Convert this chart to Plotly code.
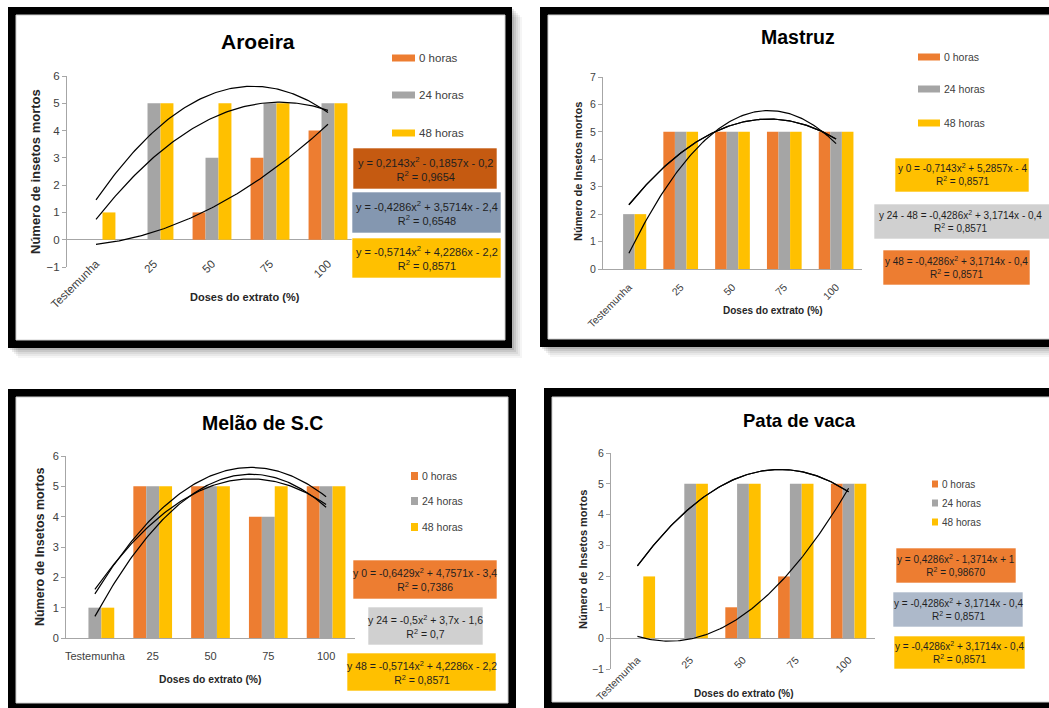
import numpy as np
import plotly.graph_objects as go

W, H = 1049, 708

# ---------------- data ----------------
categories = ["Testemunha", "25", "50", "75", "100"]
series_names = ["0 horas", "24 horas", "48 horas"]
series_colors = ["#ED7D31", "#A5A5A5", "#FFC000"]
titles = ["Aroeira", "Mastruz", "Melão de S.C", "Pata de vaca"]
y_titles = ["Número de insetos mortos", "Número de Insetos mortos",
            "Número de Insetos mortos", "Número de Insetos mortos"]
x_title = "Doses do extrato (%)"

aroeira_0 = [0, 0, 1, 3, 4]
aroeira_24 = [0, 5, 3, 5, 5]
aroeira_48 = [1, 5, 5, 5, 5]
mastruz_0 = [0, 5, 5, 5, 5]
mastruz_24 = [2, 5, 5, 5, 5]
mastruz_48 = [2, 5, 5, 5, 5]
melao_0 = [0, 5, 5, 4, 5]
melao_24 = [1, 5, 5, 4, 5]
melao_48 = [1, 5, 5, 5, 5]
pata_0 = [0, 0, 1, 2, 5]
pata_24 = [0, 5, 5, 5, 5]
pata_48 = [2, 5, 5, 5, 5]

# trendline coefficients (a, b, c): y = a*x^2 + b*x + c  (as printed on the chart)
aroeira_trends = [(0.2143, -0.1857, -0.2), (-0.4286, 3.5714, -2.4), (-0.5714, 4.2286, -2.2)]
mastruz_trends = [(-0.7143, 5.2857, -4.0), (-0.4286, 3.1714, -0.4), (-0.4286, 3.1714, -0.4)]
melao_trends = [(-0.6429, 4.7571, -3.4), (-0.5, 3.7, -1.6), (-0.5714, 4.2286, -2.2)]
pata_trends = [(0.4286, -1.3714, 1.0), (-0.4286, 3.1714, -0.4), (-0.4286, 3.1714, -0.4)]

aroeira_eq = ["y = 0,2143x<sup>2</sup> - 0,1857x - 0,2<br>R<sup>2</sup> = 0,9654",
              "y = -0,4286x<sup>2</sup> + 3,5714x - 2,4<br>R<sup>2</sup> = 0,6548",
              "y = -0,5714x<sup>2</sup> + 4,2286x - 2,2<br>R<sup>2</sup> = 0,8571"]
mastruz_eq = ["y 0 = -0,7143x<sup>2</sup> + 5,2857x - 4<br>R<sup>2</sup> = 0,8571",
              "y 24 - 48 = -0,4286x<sup>2</sup> + 3,1714x - 0,4<br>R<sup>2</sup> = 0,8571",
              "y 48 = -0,4286x<sup>2</sup> + 3,1714x - 0,4<br>R<sup>2</sup> = 0,8571"]
melao_eq = ["y 0 = -0,6429x<sup>2</sup> + 4,7571x - 3,4<br>R<sup>2</sup> = 0,7386",
            "y 24 = -0,5x<sup>2</sup> + 3,7x - 1,6<br>R<sup>2</sup> = 0,7",
            "y 48 = -0,5714x<sup>2</sup> + 4,2286x - 2,2<br>R<sup>2</sup> = 0,8571"]
pata_eq = ["y = 0,4286x<sup>2</sup> - 1,3714x + 1<br>R<sup>2</sup> = 0,98670",
           "y = -0,4286x<sup>2</sup> + 3,1714x - 0,4<br>R<sup>2</sup> = 0,8571",
           "y = -0,4286x<sup>2</sup> + 3,1714x - 0,4<br>R<sup>2</sup> = 0,8571"]

aroeira_eq_colors = ["#C55A11", "#8497B0", "#FFC000"]
mastruz_eq_colors = ["#FFC000", "#D0D0D0", "#ED7D31"]
melao_eq_colors = ["#ED7D31", "#D0D0D0", "#FFC000"]
pata_eq_colors = ["#ED7D31", "#ADB9CA", "#FFC000"]

# ---------------- layout spec (pixels of the 1049x708 page) ----------------
FONT = "Liberation Sans, Arial, sans-serif"

panels = [
    dict(series=[aroeira_0, aroeira_24, aroeira_48], trends=aroeira_trends,
         eq=aroeira_eq, eqc=aroeira_eq_colors,
         xdom=(67, 357), ytop=76, ybot=267, yr=(-1, 6), zero=True, tickangle=-45, standoff=-13,
         frame=(8, 7, 512, 348), inner=(16, 15, 505, 340), shadow=True,
         title=(258, 42, 21), ytitle=(35, 172, 13), xtitle=(245, 297, 11),
         leg=dict(x=392, w=23, h=7, ys=[58, 95, 133], tx=417, fs=11.5),
         boxes=[(353, 148, 497, 189), (352, 192, 501, 233), (352, 238, 501, 278)], eqfs=11,
         tickfs=11.5),
    dict(series=[mastruz_0, mastruz_24, mastruz_48], trends=mastruz_trends,
         eq=mastruz_eq, eqc=mastruz_eq_colors,
         xdom=(603, 862), ytop=77, ybot=269, yr=(0, 7), zero=False, tickangle=-45, standoff=7,
         frame=(540, 7, 1070, 347), inner=(548, 15, 1070, 339), shadow=True,
         title=(798, 37, 19.5), ytitle=(578, 172, 11), xtitle=(772, 310, 10),
         leg=dict(x=918, w=22, h=7, ys=[57, 89, 123], tx=942, fs=10.5),
         boxes=[(895, 158, 1029, 192), (874, 204, 1060, 239), (883, 250, 1030, 285)], eqfs=10,
         tickfs=10.5),
    dict(series=[melao_0, melao_24, melao_48], trends=melao_trends,
         eq=melao_eq, eqc=melao_eq_colors,
         xdom=(66, 355), ytop=456, ybot=638, yr=(0, 6), zero=False, tickangle=0, standoff=8,
         frame=(8, 389, 516, 720), inner=(16, 397, 508, 703), shadow=False,
         title=(262, 423, 19.5), ytitle=(40, 547, 12.5), xtitle=(210, 679, 10.3),
         leg=dict(x=411, w=7, h=8, ys=[476, 501, 527], tx=420, fs=10.5),
         boxes=[(353, 560, 497, 599), (368, 607, 483, 645), (347, 653, 496, 691)], eqfs=10.5,
         tickfs=11),
    dict(series=[pata_0, pata_24, pata_48], trends=pata_trends,
         eq=pata_eq, eqc=pata_eq_colors,
         xdom=(611, 875), ytop=453, ybot=669, yr=(-1, 6), zero=True, tickangle=-45, standoff=-18,
         frame=(544, 388, 1070, 720), inner=(552, 397, 1070, 702), shadow=False,
         title=(799, 420, 18.5), ytitle=(583, 560, 11), xtitle=(743, 693, 10),
         leg=dict(x=932, w=6, h=7, ys=[484, 503, 522], tx=940, fs=10),
         boxes=[(896, 548, 1016, 583), (893, 592, 1023, 627), (894, 636, 1025, 669)], eqfs=10,
         tickfs=10.5),
]


def PX(x):
    return x / W


def PY(y):
    return 1 - y / H


fig = go.Figure()
shapes = []
annotations = []
xs = [1, 2, 3, 4, 5]
xfine = np.linspace(1, 5, 121)

for i, p in enumerate(panels):
    n = "" if i == 0 else str(i + 1)
    xa, ya = "x" + n, "y" + n

    # frames (below everything)
    fx0, fy0, fx1, fy1 = p["frame"]
    if p["shadow"]:
        for k, a in [(10, 0.04), (8, 0.05), (6, 0.06), (4, 0.08), (2, 0.10)]:
            shapes.append(dict(type="rect", xref="paper", yref="paper", layer="below",
                               x0=PX(fx0 + k), x1=PX(fx1 + k), y0=PY(fy0 + k), y1=PY(fy1 + k),
                               fillcolor=f"rgba(0,0,0,{a})", line=dict(width=0)))
    shapes.append(dict(type="rect", xref="paper", yref="paper", layer="below",
                       x0=PX(fx0), x1=PX(fx1), y0=PY(fy0), y1=PY(fy1),
                       fillcolor="#000000", line=dict(width=0)))
    ix0, iy0, ix1, iy1 = p["inner"]
    shapes.append(dict(type="rect", xref="paper", yref="paper", layer="below",
                       x0=PX(ix0), x1=PX(ix1), y0=PY(iy0), y1=PY(iy1),
                       fillcolor="#FFFFFF", line=dict(color="#D0D0D0", width=1)))

    # bars
    for s, (vals, name, col) in enumerate(zip(p["series"], series_names, series_colors)):
        fig.add_trace(go.Bar(x=xs, y=vals, name=name, marker=dict(color=col, line=dict(width=0)),
                             offsetgroup=str(s), xaxis=xa, yaxis=ya, showlegend=False))
    # trendlines
    for (a, b, c) in p["trends"]:
        fig.add_trace(go.Scatter(x=xfine, y=a * xfine ** 2 + b * xfine + c, mode="lines",
                                 line=dict(color="#000000", width=1.2), xaxis=xa, yaxis=ya,
                                 showlegend=False, hoverinfo="skip"))

    ydom = (PY(p["ybot"]), PY(p["ytop"]))
    y0, y1 = p["yr"]
    fig.update_layout(**{
        ("xaxis" + n): dict(domain=[PX(p["xdom"][0]), PX(p["xdom"][1])], anchor=ya,
                            range=[0.5, 5.5], tickmode="array", tickvals=xs, ticktext=categories,
                            showgrid=False, zeroline=False, automargin=False,
                            showline=not p["zero"], linecolor="#A6A6A6", linewidth=1,
                            ticks="", tickangle=p["tickangle"], ticklabelstandoff=p["standoff"],
                            tickfont=dict(family=FONT, size=p["tickfs"], color="#404040")),
        ("yaxis" + n): dict(domain=list(ydom), anchor=xa, range=[y0, y1], automargin=False,
                            tickmode="array", tickvals=list(range(y0, y1 + 1)),
                            showgrid=False, zeroline=p["zero"], zerolinecolor="#A6A6A6",
                            zerolinewidth=1, showline=True, linecolor="#A6A6A6", linewidth=1,
                            ticks="outside", ticklen=4, tickcolor="#A6A6A6",
                            tickfont=dict(family=FONT, size=p["tickfs"], color="#404040")),
    })

    # titles
    tx, ty, tfs = p["title"]
    annotations.append(dict(text="<b>%s</b>" % titles[i], x=PX(tx), y=PY(ty), xref="paper", yref="paper",
                            showarrow=False, xanchor="center", yanchor="middle",
                            font=dict(family=FONT, size=tfs, color="#000000")))
    yx, yy, yfs = p["ytitle"]
    annotations.append(dict(text="<b>%s</b>" % y_titles[i], x=PX(yx), y=PY(yy), xref="paper", yref="paper",
                            showarrow=False, xanchor="center", yanchor="middle", textangle=-90,
                            font=dict(family=FONT, size=yfs, color="#262626")))
    xx, xy, xfs = p["xtitle"]
    annotations.append(dict(text="<b>%s</b>" % x_title, x=PX(xx), y=PY(xy), xref="paper", yref="paper",
                            showarrow=False, xanchor="center", yanchor="middle",
                            font=dict(family=FONT, size=xfs, color="#262626")))

    # legend
    lg = p["leg"]
    for name, col, ly in zip(series_names, series_colors, lg["ys"]):
        shapes.append(dict(type="rect", xref="paper", yref="paper",
                           x0=PX(lg["x"]), x1=PX(lg["x"] + lg["w"]),
                           y0=PY(ly + lg["h"] / 2), y1=PY(ly - lg["h"] / 2),
                           fillcolor=col, line=dict(width=0)))
        annotations.append(dict(text=name, x=PX(lg["tx"]), y=PY(ly), xref="paper", yref="paper",
                                showarrow=False, xanchor="left", yanchor="middle",
                                font=dict(family=FONT, size=lg["fs"], color="#404040")))

    # equation boxes (filled rectangles + centred text)
    for txt, col, (bx0, by0, bx1, by1) in zip(p["eq"], p["eqc"], p["boxes"]):
        shapes.append(dict(type="rect", xref="paper", yref="paper",
                           x0=PX(bx0), x1=PX(bx1), y0=PY(by1), y1=PY(by0),
                           fillcolor=col, line=dict(color="rgba(255,255,255,0.6)", width=1)))
        cx = (bx0 + min(bx1, 1046)) / 2
        annotations.append(dict(text=txt, x=PX(cx), y=PY((by0 + by1) / 2),
                                xref="paper", yref="paper", showarrow=False,
                                xanchor="center", yanchor="middle", align="center",
                                font=dict(family=FONT, size=p["eqfs"], color="#1F1F1F")))

fig.update_layout(width=W, height=H, autosize=False, margin=dict(l=0, r=0, t=0, b=0, pad=0),
                  paper_bgcolor="#FFFFFF", plot_bgcolor="rgba(0,0,0,0)",
                  barmode="group", bargap=0.33, bargroupgap=0.0,
                  shapes=shapes, annotations=annotations, showlegend=False)

# remove the browser's default 8px page margin so the 1049x708 figure fills the window
fig.write_html("out.html", config={"displayModeBar": False},
               post_script="document.body.style.margin='0px';document.body.style.overflow='hidden';")
